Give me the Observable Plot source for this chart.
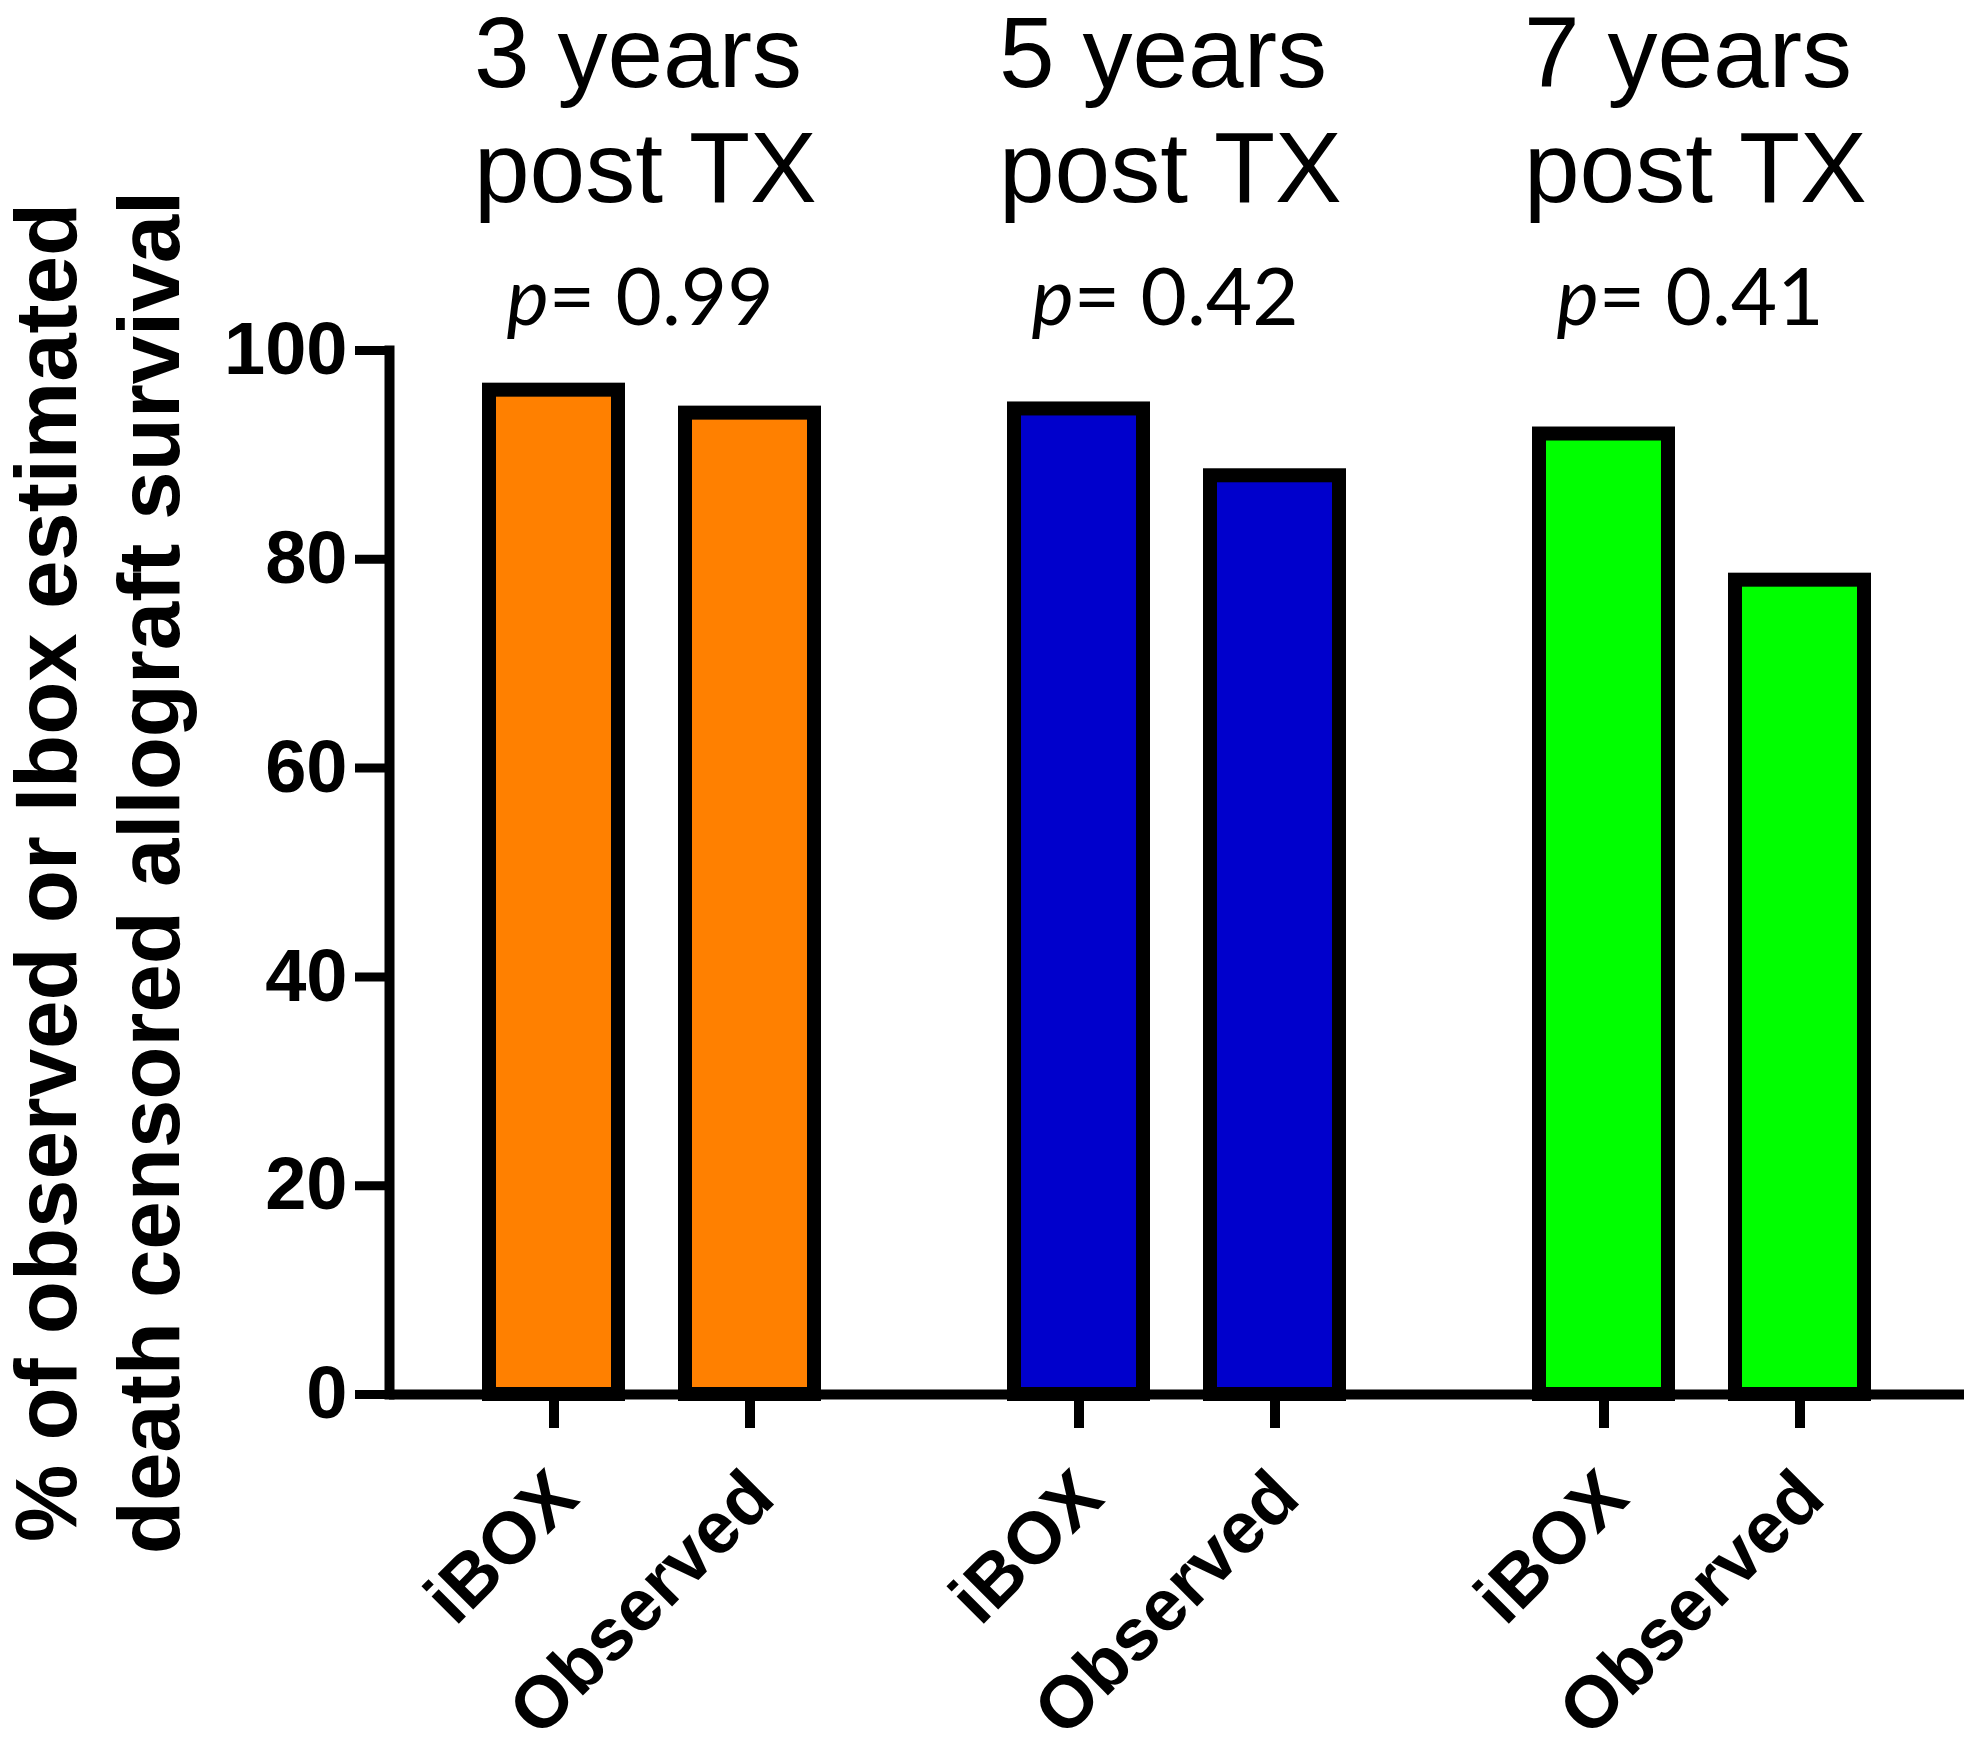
<!DOCTYPE html>
<html>
<head>
<meta charset="utf-8">
<script src="https://cdn.jsdelivr.net/npm/d3@7"></script>
<script src="https://cdn.jsdelivr.net/npm/@observablehq/plot@0.6"></script>
<style>
  html, body { margin: 0; padding: 0; background: #ffffff; }
  #chart svg { display: block; }
</style>
</head>
<body>
<div id="chart"></div>
<script>
// ---- data ----
const groups = ["3 years\npost TX", "5 years\npost TX", "7 years\npost TX"];
const pValues = ["p= 0.99", "p= 0.42", "p= 0.41"];
const series = ["iBOX", "Observed"];
const iboxValues = [96.2, 94.4, 92.0];
const observedValues = [94.0, 88.0, 78.0];
const groupColors = ["#FF8000", "#0000CC", "#00FF00"];
const yTicks = [0, 20, 40, 60, 80, 100];
const yLabel = "% of observed or Ibox estimated\ndeath censored allograft survival";

// ---- table built from arrays ----
const rows = groups.flatMap((g, i) => [
  {group: g, series: series[0], value: iboxValues[i]},
  {group: g, series: series[1], value: observedValues[i]}
]);
const groupRows = groups.map((g, i) => ({group: g, p: pValues[i]}));
const labelRows = groups.flatMap(g => series.map(s => ({group: g, series: s})));

const sans = "'Liberation Sans', Arial, sans-serif";
const narrow = "'Liberation Sans Narrow', 'Arial Narrow', 'Liberation Sans', sans-serif";
const pFont = "Lato, 'Open Sans', sans-serif";

const chart = Plot.plot({
  width: 1969,
  height: 1757,
  marginLeft: 388,
  marginRight: 5,
  marginTop: 350,
  marginBottom: 363,
  style: {background: "#ffffff", color: "#000000", overflow: "visible"},
  fx: {domain: groups, padding: 0, axis: null, label: null},
  x: {domain: series, paddingInner: 0.34, paddingOuter: 0.504, label: null},
  y: {domain: [0, 100], label: null},
  color: {domain: groups, range: groupColors},
  marks: [
    Plot.barY(rows, {
      fx: "group", x: "series", y: "value",
      fill: "group", stroke: "#000000", strokeWidth: 14
    }),
    Plot.ruleY([0], {stroke: "#000000", strokeWidth: 10}),
    Plot.frame({anchor: "left", facetAnchor: "left", stroke: "#000000", strokeWidth: 10}),
    Plot.axisY({
      ticks: yTicks, tickSize: 34, tickPadding: 8, strokeWidth: 9,
      fontSize: 74, fontWeight: "bold", fontFamily: narrow, label: null,
      stroke: "#000000", fill: "#000000"
    }),
    Plot.axisX({
      tickSize: 34, strokeWidth: 10, stroke: "#000000",
      tickFormat: () => null, label: null
    }),
    Plot.text(labelRows, {
      fx: "group", x: "series", text: "series",
      frameAnchor: "bottom", rotate: -45, textAnchor: "end", lineAnchor: "middle",
      dx: 11, dy: 90,
      fontSize: 73, fontWeight: "bold", fontFamily: sans, fill: "#000000"
    }),
    Plot.text(groupRows, {
      fx: "group", text: "group",
      frameAnchor: "top", textAnchor: "start", lineAnchor: "top",
      dx: -178, dy: -345, lineHeight: 1.15,
      fontSize: 100, fontFamily: sans, fill: "#000000"
    }),
    Plot.text(groupRows, {
      fx: "group", text: "p",
      frameAnchor: "top", textAnchor: "middle", lineAnchor: "top",
      dx: -12, dy: -82, fontSize: 80, fontFamily: pFont, fill: "#000000"
    }),
    Plot.text([yLabel], {
      text: d => d, facetAnchor: "left",
      frameAnchor: "left", rotate: -90, textAnchor: "middle", lineAnchor: "middle",
      dx: -295, lineHeight: 1.184,
      fontSize: 87, fontWeight: "bold", fontFamily: sans, fill: "#000000"
    })
  ]
});

document.getElementById("chart").appendChild(chart);

// italicize the "p" of each p-value
const ns = "http://www.w3.org/2000/svg";
chart.querySelectorAll("text").forEach(t => {
  const s = t.textContent;
  if (/^p= /.test(s) && t.children.length === 0) {
    t.textContent = "";
    const a = document.createElementNS(ns, "tspan");
    a.setAttribute("font-style", "italic");
    a.textContent = "p";
    const b = document.createElementNS(ns, "tspan");
    b.textContent = s.slice(1);
    t.appendChild(a);
    t.appendChild(b);
  }
});
</script>
</body>
</html>
